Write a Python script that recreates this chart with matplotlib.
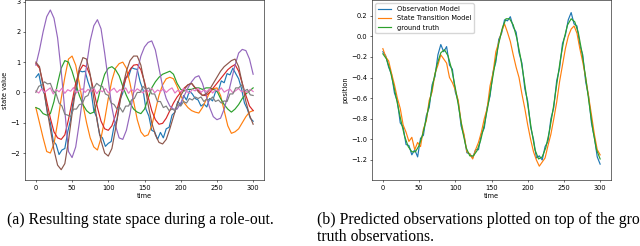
import numpy as np
import matplotlib.pyplot as plt

# time axes (sample positions)
t5 = np.arange(0, 301, 5)
t4 = np.arange(0, 301, 4)

# (a) state space roll-out, 8 state dimensions
s_blue = [0.5, 0.62, 0.15, -0.05, -0.7, -1.0, -1.6, -1.72, -2.05, -1.9,
          -1.85, -1.3, -0.9, -0.2, 0.1, 0.72, 0.68, 0.7, 0.35, 0.08,
          -0.6, -0.82, -1.4, -1.5, -1.78, -1.68, -1.62, -1.1, -0.9, -0.25,
          -0.02, 0.5, 0.52, 0.82, 0.78, 0.76, 0.35, 0.08, -0.55, -0.78,
          -1.25, -1.3, -1.55, -1.32, -1.5, -1.2, -1.15, -0.75, -0.65, -0.3,
          -0.42, -0.1, -0.25, 0.05, -0.05, -0.2, -0.25, -0.45, -0.38, -0.48,
          -0.2, -0.28, 0.02, 0.05, 0.38, 0.32, 0.62, 0.58, 0.8, 0.62,
          0.45, 0.12, -0.35, -0.55, -0.85, -0.95]
s_orange = [-0.5, -1.0, -1.5, -1.95, -2.0, -1.7, -1.0, -0.2, 0.5, 1.1,
            1.2, 0.9, 0.3, -0.4, -1.0, -1.5, -1.8, -1.9, -1.5, -0.9,
            -0.2, 0.4, 0.8, 0.95, 1.0, 0.8, 0.3, -0.3, -0.9, -1.3,
            -1.45, -1.4, -1.1, -0.6, -0.1, 0.25, 0.45, 0.5, 0.45, 0.2,
            -0.1, -0.35, -0.5, -0.6, -0.65, -0.68, -0.5, -0.25, 0.0, 0.12,
            0.15, -0.1, -0.6, -1.1, -1.35, -1.3, -1.2, -1.0, -0.8, -0.65, -0.6]
s_green = [-0.5, -0.55, -0.7, -0.75, -0.7, -0.3, 0.3, 0.8, 1.05, 1.0,
           0.7, 0.3, -0.1, -0.4, -0.6, -0.7, -0.65, -0.3, 0.2, 0.6,
           0.8, 0.85, 0.75, 0.55, 0.2, -0.1, -0.35, -0.55, -0.65, -0.7,
           -0.55, -0.2, 0.15, 0.35, 0.5, 0.6, 0.65, 0.7, 0.6, 0.3,
           0.1, 0.05, 0.1, 0.1, 0.15, 0.15, 0.1, 0.15, 0.15, 0.1,
           0.05, -0.2, -0.4, -0.55, -0.65, -0.55, -0.4, -0.2, -0.05, 0.05, 0.15]
s_red = [0.95, 0.8, 0.3, -0.3, -0.85, -1.3, -1.5, -1.55, -1.4, -0.9,
         -0.3, 0.3, 0.7, 0.9, 0.85, 0.55, 0.05, -0.5, -0.95, -1.2,
         -1.25, -1.1, -0.75, -0.3, 0.15, 0.5, 0.75, 0.9, 0.92, 0.75,
         0.35, -0.15, -0.6, -0.9, -1.05, -1.02, -0.85, -0.6, -0.35, -0.15,
         0.0, 0.15, 0.25, 0.3, 0.15, 0.05, -0.1, -0.1, 0.0, 0.15,
         0.3, 0.45, 0.6, 0.75, 0.85, 0.92, 0.7, 0.3, -0.1, -0.45, -0.6]
s_purple = [0.9, 1.4, 2.0, 2.5, 2.72, 2.45, 1.8, 0.7, -0.6, -1.95,
            -2.15, -1.8, -1.0, -0.1, 0.9, 1.7, 2.2, 2.4, 2.1, 1.3,
            0.4, -0.5, -1.1, -1.5, -1.55, -1.25, -0.7, 0.0, 0.7, 1.2,
            1.5, 1.65, 1.7, 1.4, 0.8, 0.2, -0.2, -0.45, -0.55, -0.55,
            -0.35, -0.1, 0.15, 0.35, 0.5, 0.55, 0.3, -0.1, -0.5, -0.8,
            -0.9, -0.85, -0.55, -0.1, 0.4, 0.9, 1.3, 1.42, 1.38, 1.1, 0.6]
s_brown = [1.0, 0.85, 0.2, -0.5, -1.2, -1.9, -2.4, -2.55, -2.35, -1.6,
           -0.7, 0.1, 0.8, 1.15, 1.1, 0.6, -0.2, -1.0, -1.6, -2.0,
           -2.1, -1.85, -1.2, -0.5, 0.2, 0.7, 1.05, 1.2, 1.2, 0.9,
           0.3, -0.4, -1.0, -1.4, -1.65, -1.7, -1.55, -1.2, -0.8, -0.4,
           -0.1, 0.1, 0.25, 0.3, 0.15, 0.0, -0.1, -0.05, 0.1, 0.3,
           0.5, 0.7, 0.85, 0.95, 1.05, 1.1, 0.85, 0.3, -0.3, -0.75, -1.05]
s_pink = [0.05, -0.02, 0.12, 0.0, 0.08, 0.15, -0.05, 0.1, 0.02, 0.14,
          -0.03, 0.09, 0.04, 0.16, -0.02, 0.06, 0.12, 0.0, 0.1, 0.03,
          0.15, -0.04, 0.08, 0.02, 0.13, -0.01, 0.07, 0.14, 0.0, 0.09,
          0.04, 0.15, -0.03, 0.1, 0.02, 0.12, 0.05, -0.02, 0.11, 0.03,
          0.14, -0.01, 0.08, 0.03, 0.12, 0.0, 0.09, 0.15, -0.02, 0.07,
          0.02, 0.13, 0.04, -0.03, 0.1, 0.05, 0.14, 0.0, 0.08, 0.03,
          0.12, -0.02, 0.09, 0.04, 0.15, 0.01, 0.07, 0.11, -0.01, 0.06,
          0.13, 0.02, 0.08, 0.0, 0.1, 0.03]
s_gray = [0.0, 0.2, 0.25, 0.35, 0.28, 0.3, 0.05, -0.05, -0.35, -0.45,
          -0.72, -0.75, -0.8, -0.55, -0.55, -0.4, -0.38, -0.15, -0.1, 0.15,
          0.15, 0.3, 0.22, 0.2, -0.05, -0.1, -0.35, -0.4, -0.55, -0.5,
          -0.65, -0.45, -0.45, -0.25, -0.2, 0.0, 0.0, 0.2, 0.1, 0.15,
          -0.05, -0.05, -0.3, -0.3, -0.5, -0.45, -0.6, -0.55, -0.6, -0.4,
          -0.45, -0.3, -0.35, -0.2, -0.25, -0.15, -0.2, -0.15, -0.3, -0.22,
          -0.25, -0.15, -0.3, -0.25, -0.35, -0.28, -0.3, -0.05, -0.05, 0.15,
          0.15, 0.25, 0.05, 0.1, -0.08, -0.1]

# (b) predicted position vs ground truth
obs_model = [-0.15, -0.19, -0.30, -0.37, -0.55, -0.63, -0.84, -0.88, -1.05, -1.06,
             -1.15, -1.10, -1.17, -0.99, -0.96, -0.77, -0.69, -0.47, -0.39, -0.18,
             -0.08, -0.15, -0.10, -0.28, -0.32, -0.54, -0.63, -0.87, -0.96, -1.13,
             -1.14, -1.18, -1.10, -1.10, -0.95, -0.89, -0.69, -0.58, -0.35, -0.25,
             -0.03, 0.03, 0.16, 0.15, 0.19, 0.09, 0.04, -0.16, -0.26, -0.51,
             -0.63, -0.88, -1.00, -1.18, -1.16, -1.20, -1.07, -1.02, -0.80, -0.69,
             -0.43, -0.31, -0.07, 0.01, 0.16, 0.23, 0.12, 0.10, -0.09, -0.18,
             -0.44, -0.58, -0.84, -0.98, -1.17, -1.24]
trans_model = [-0.12, -0.20, -0.24, -0.36, -0.47, -0.60, -0.70, -0.86, -0.93, -1.02,
               -0.98, -1.10, -1.03, -1.07, -0.90, -0.82, -0.62, -0.54, -0.36, -0.28,
               -0.18, -0.22, -0.26, -0.40, -0.45, -0.52, -0.62, -0.83, -0.95, -1.12,
               -1.14, -1.19, -1.10, -1.03, -0.93, -0.80, -0.70, -0.48, -0.36, -0.15,
               -0.06, 0.05, 0.12, 0.04, -0.05, -0.18, -0.30, -0.40, -0.56, -0.70,
               -0.86, -1.00, -1.12, -1.20, -1.26, -1.22, -1.18, -1.06, -0.95, -0.80,
               -0.64, -0.44, -0.28, -0.12, 0.00, 0.07, 0.10, 0.03, -0.12, -0.25,
               -0.40, -0.58, -0.76, -0.95, -1.10, -1.15]
ground_truth = [-0.17, -0.22, -0.33, -0.48, -0.65, -0.82, -0.97, -1.07, -1.12, -1.12,
                -1.06, -0.95, -0.80, -0.62, -0.43, -0.27, -0.16, -0.13, -0.19, -0.32,
                -0.50, -0.70, -0.92, -1.08, -1.16, -1.16, -1.11, -1.01, -0.86, -0.68,
                -0.47, -0.26, -0.07, 0.08, 0.17, 0.17, 0.11, -0.02, -0.20, -0.42,
                -0.66, -0.90, -1.10, -1.19, -1.17, -1.08, -0.92, -0.71, -0.47, -0.23,
                -0.03, 0.11, 0.17, 0.14, 0.03, -0.16, -0.40, -0.66, -0.91, -1.10, -1.19]

fs = 4.8
lw = 0.85
plt.rcParams['font.size'] = fs
plt.rcParams['axes.linewidth'] = 0.4
for a in ('xtick', 'ytick'):
    plt.rcParams[a + '.major.size'] = 1.7
    plt.rcParams[a + '.major.width'] = 0.4
    plt.rcParams[a + '.major.pad'] = 1.7
    plt.rcParams[a + '.labelsize'] = fs

fig = plt.figure(figsize=(6.4, 2.46), dpi=100)
ax1 = fig.add_axes([25 / 640, 66 / 246, 239 / 640, 180 / 246])
ax2 = fig.add_axes([372 / 640, 66 / 246, 239 / 640, 180 / 246])

ax1.plot(t4, s_blue, lw=lw)
ax1.plot(t5, s_orange, lw=lw)
ax1.plot(t5, s_green, lw=lw)
ax1.plot(t5, s_red, lw=lw)
ax1.plot(t5, s_purple, lw=lw)
ax1.plot(t5, s_brown, lw=lw)
ax1.plot(t4, s_pink, lw=lw)
ax1.plot(t4, s_gray, lw=lw)
ax1.set_xlim(-15, 315)
ax1.set_ylim(-2.89, 3.05)
ax1.set_xlabel('time', labelpad=1.9)
ax1.set_ylabel('state value', labelpad=1.9)

ax2.plot(t4, obs_model, lw=lw, label='Observation Model')
ax2.plot(t4, trans_model, lw=lw, label='State Transition Model')
ax2.plot(t5, ground_truth, lw=lw, label='ground truth')
ax2.set_xlim(-15, 315)
ax2.set_ylim(-1.394, 0.352)
ax2.set_yticks([-1.2, -1.0, -0.8, -0.6, -0.4, -0.2, 0.0, 0.2])
ax2.set_xlabel('time', labelpad=1.9)
ax2.set_ylabel('position', labelpad=1.9)
ax2.legend(loc='upper left', fontsize=fs, borderaxespad=0.5)

# sub-captions (the second one runs past the right edge, as in the source)
fig.text(7 / 640, 1 - 220.5 / 246, '(a) Resulting state space during a role-out.',
         family='Liberation Serif', fontsize=11.3, va='center')
fig.text(317 / 640, 1 - 228.5 / 246,
         '(b) Predicted observations plotted on top of the ground\ntruth observations.',
         family='Liberation Serif', fontsize=11.3, va='center', linespacing=1.1)

fig.savefig('out.png', dpi=100)
